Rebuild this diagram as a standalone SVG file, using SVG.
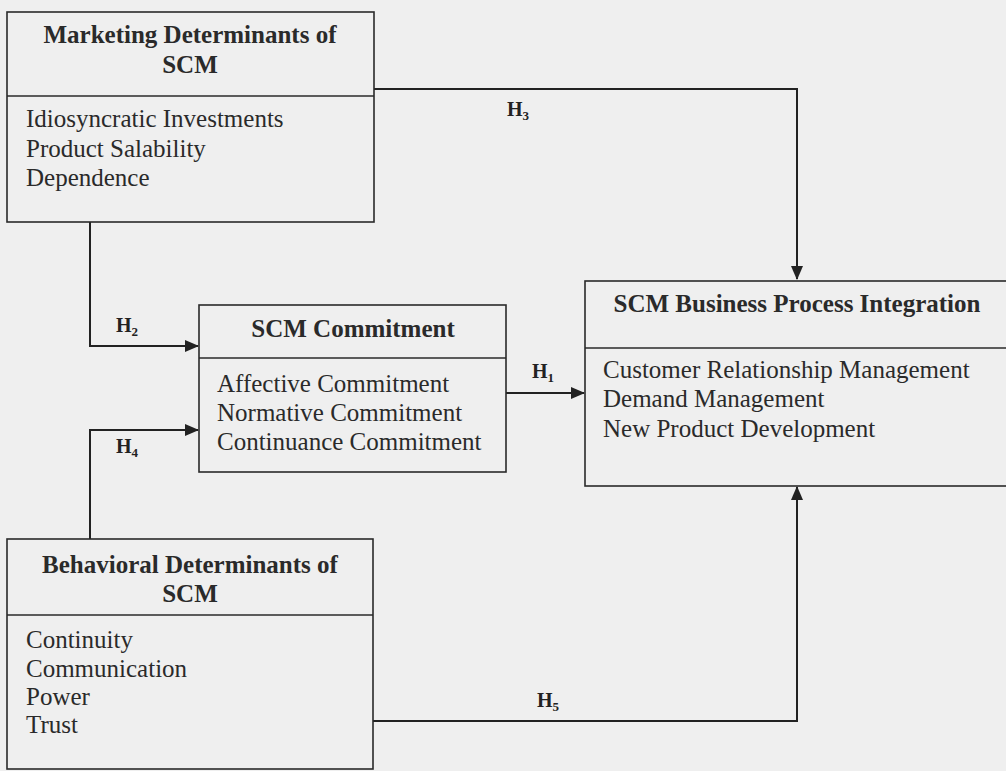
<svg xmlns="http://www.w3.org/2000/svg" width="1006" height="771" viewBox="0 0 1006 771">
<defs>
<marker id="arr" markerWidth="14" markerHeight="12" refX="13" refY="6" orient="auto" markerUnits="userSpaceOnUse">
<path d="M0,0 L14,6 L0,12 z" fill="#222"/>
</marker>
</defs>
<style>
.box{fill:none;stroke:#2a2a2a;stroke-width:1.6}
.div{stroke:#2a2a2a;stroke-width:1.6}
.conn{fill:none;stroke:#222;stroke-width:2}
.title{font-family:"Liberation Serif","Times New Roman",serif;font-weight:bold;font-size:25px;fill:#2a2a2a;text-anchor:middle}
.item{font-family:"Liberation Serif","Times New Roman",serif;font-size:25px;fill:#2a2a2a}
.h{font-family:"Liberation Serif","Times New Roman",serif;font-weight:bold;font-size:20px;fill:#222}
</style>
<rect x="0" y="0" width="1006" height="771" fill="#efefef"/>
<g id="connectors">
<polyline class="conn" points="374,89 797,89 797,279" marker-end="url(#arr)"/>
<polyline class="conn" points="90,222 90,346 198,346" marker-end="url(#arr)"/>
<polyline class="conn" points="506,393 584,393" marker-end="url(#arr)"/>
<polyline class="conn" points="90,539 90,430 198,430" marker-end="url(#arr)"/>
<polyline class="conn" points="373,721 797,721 797,487" marker-end="url(#arr)"/>
<text class="h" x="507" y="116">H<tspan font-size="13" dy="4">3</tspan></text>
<text class="h" x="116" y="332">H<tspan font-size="13" dy="4">2</tspan></text>
<text class="h" x="532" y="378">H<tspan font-size="13" dy="4">1</tspan></text>
<text class="h" x="116" y="453">H<tspan font-size="13" dy="4">4</tspan></text>
<text class="h" x="537" y="707">H<tspan font-size="13" dy="4">5</tspan></text>
</g>
<g id="marketing">
<rect class="box" x="7" y="12" width="367" height="210"/>
<line class="div" x1="7" y1="96" x2="374" y2="96"/>
<text class="title" x="190" y="43">Marketing Determinants of</text>
<text class="title" x="190" y="73">SCM</text>
<text class="item" x="26" y="127">Idiosyncratic Investments</text>
<text class="item" x="26" y="157">Product Salability</text>
<text class="item" x="26" y="186">Dependence</text>
</g>
<g id="commitment">
<rect class="box" x="199" y="305" width="307" height="167"/>
<line class="div" x1="199" y1="358" x2="506" y2="358"/>
<text class="title" x="353" y="337">SCM Commitment</text>
<text class="item" x="217" y="392">Affective Commitment</text>
<text class="item" x="217" y="421">Normative Commitment</text>
<text class="item" x="217" y="450">Continuance Commitment</text>
</g>
<g id="integration">
<rect class="box" x="585" y="281" width="440" height="205"/>
<line class="div" x1="585" y1="348" x2="1006" y2="348"/>
<text class="title" x="797" y="312">SCM Business Process Integration</text>
<text class="item" x="603" y="378">Customer Relationship Management</text>
<text class="item" x="603" y="407">Demand Management</text>
<text class="item" x="603" y="437">New Product Development</text>
</g>
<g id="behavioral">
<rect class="box" x="7" y="539" width="366" height="230"/>
<line class="div" x1="7" y1="615" x2="373" y2="615"/>
<text class="title" x="190" y="573">Behavioral Determinants of</text>
<text class="title" x="190" y="602">SCM</text>
<text class="item" x="26" y="648">Continuity</text>
<text class="item" x="26" y="677">Communication</text>
<text class="item" x="26" y="705">Power</text>
<text class="item" x="26" y="733">Trust</text>
</g>
</svg>
